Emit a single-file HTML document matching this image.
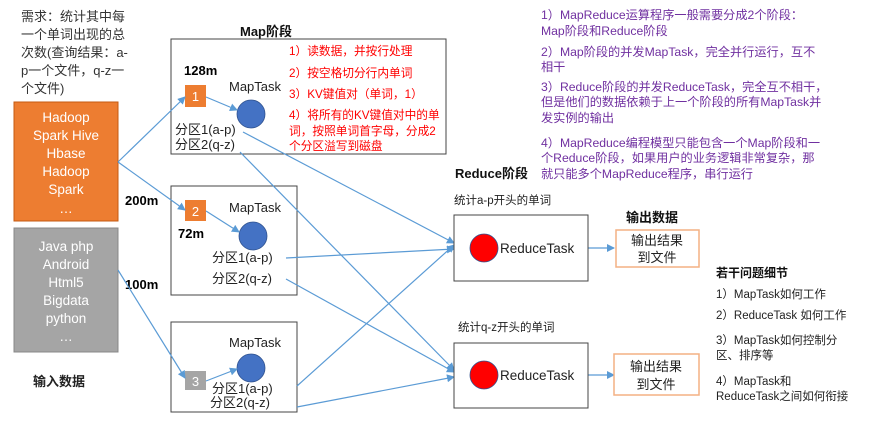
<!DOCTYPE html>
<html><head><meta charset="utf-8"><style>
body{margin:0;width:870px;height:419px;background:#fff;overflow:hidden;font-family:"Liberation Sans","Noto Sans CJK SC",sans-serif;}
svg text{font-family:"Liberation Sans","Noto Sans CJK SC",sans-serif;}
</style></head><body>
<svg width="870" height="419" viewBox="0 0 870 419" xmlns="http://www.w3.org/2000/svg">
<defs><marker id="a" markerWidth="8" markerHeight="8" refX="7" refY="4" orient="auto" markerUnits="userSpaceOnUse"><path d="M0,0 L8,4 L0,8 z" fill="#5b9bd5"/></marker></defs>
<g font-size="13" fill="#333">
<text x="21" y="21">需求：统计其中每</text>
<text x="21" y="39">一个单词出现的总</text>
<text x="21" y="57">次数(查询结果：a-</text>
<text x="21" y="75">p一个文件，q-z一</text>
<text x="21" y="93">个文件)</text>
</g>
<rect x="14" y="102" width="104" height="119" fill="#ed7d31" stroke="#c55a11"/>
<g font-size="13.5" fill="#fff" text-anchor="middle">
<text x="66" y="122">Hadoop</text><text x="66" y="140">Spark Hive</text><text x="66" y="158">Hbase</text><text x="66" y="176">Hadoop</text><text x="66" y="194">Spark</text><text x="66" y="213">…</text>
</g>
<rect x="14" y="228" width="104" height="124" fill="#a5a5a5" stroke="#888"/>
<g font-size="13.5" fill="#fff" text-anchor="middle">
<text x="66" y="251">Java php</text><text x="66" y="269">Android</text><text x="66" y="287">Html5</text><text x="66" y="305">Bigdata</text><text x="66" y="323">python</text><text x="66" y="341">…</text>
</g>
<text x="33" y="386" font-size="13" font-weight="bold" fill="#222">输入数据</text>
<text x="240" y="36" font-size="13" font-weight="bold" fill="#111">Map阶段</text>
<rect x="171" y="39" width="275" height="115" fill="#fff" stroke="#444"/>
<rect x="171" y="186" width="126" height="109" fill="#fff" stroke="#444"/>
<rect x="171" y="322" width="126" height="90" fill="#fff" stroke="#444"/>
<text x="184" y="75" font-size="13" font-weight="bold">128m</text>
<text x="125" y="205" font-size="13" font-weight="bold">200m</text>
<text x="178" y="238" font-size="13" font-weight="bold">72m</text>
<text x="125" y="289" font-size="13" font-weight="bold">100m</text>
<rect x="185" y="85" width="21" height="22" fill="#ed7d31"/><text x="195.5" y="101" font-size="13" fill="#fff" text-anchor="middle">1</text>
<rect x="185" y="200" width="21" height="21" fill="#ed7d31"/><text x="195.5" y="216" font-size="13" fill="#fff" text-anchor="middle">2</text>
<rect x="185" y="371" width="21" height="19" fill="#a5a5a5"/><text x="195.5" y="386" font-size="13" fill="#fff" text-anchor="middle">3</text>
<g font-size="13" fill="#222">
<text x="229" y="91">MapTask</text><text x="229" y="212">MapTask</text><text x="229" y="347">MapTask</text>
<text x="175" y="134">分区1(a-p)</text><text x="175" y="149">分区2(q-z)</text>
<text x="212" y="262">分区1(a-p)</text><text x="212" y="283">分区2(q-z)</text>
<text x="212" y="393">分区1(a-p)</text><text x="210" y="407">分区2(q-z)</text>
</g>
<g fill="#4472c4" stroke="#2f528f" stroke-width="0.8">
<circle cx="251" cy="114" r="14"/><circle cx="253" cy="236" r="14"/><circle cx="251" cy="368" r="14"/>
</g>
<g font-size="11.7" fill="#f00">
<text x="289" y="55">1）读数据，并按行处理</text>
<text x="289" y="77">2）按空格切分行内单词</text>
<text x="289" y="98">3）KV键值对（单词，1）</text>
<text x="289" y="119">4）将所有的KV键值对中的单</text>
<text x="289" y="135">词，按照单词首字母，分成2</text>
<text x="289" y="150">个分区溢写到磁盘</text>
</g>
<g stroke="#5b9bd5" stroke-width="1.2" fill="none" marker-end="url(#a)">
<line x1="118" y1="162" x2="185" y2="97"/>
<line x1="118" y1="162" x2="185" y2="210"/>
<line x1="118" y1="270" x2="185" y2="378"/>
<line x1="206" y1="97" x2="237" y2="110"/>
<line x1="206" y1="211" x2="239" y2="232"/>
<line x1="206" y1="381" x2="237" y2="369"/>
<line x1="243" y1="132" x2="454" y2="243"/>
<line x1="240" y1="152" x2="454" y2="370"/>
<line x1="286" y1="258" x2="454" y2="249"/>
<line x1="286" y1="279" x2="454" y2="372"/>
<line x1="297" y1="386" x2="454" y2="245"/>
<line x1="297" y1="407" x2="454" y2="377"/>
<line x1="588" y1="248" x2="614" y2="248"/>
<line x1="588" y1="375" x2="614" y2="375"/>
</g>
<text x="455" y="178" font-size="13" font-weight="bold" fill="#111">Reduce阶段</text>
<text x="454" y="204" font-size="11.5" fill="#222">统计a-p开头的单词</text>
<text x="458" y="331" font-size="11.5" fill="#222">统计q-z开头的单词</text>
<rect x="454" y="215" width="134" height="66" fill="#fff" stroke="#444"/>
<rect x="454" y="343" width="134" height="65" fill="#fff" stroke="#444"/>
<circle cx="484" cy="248" r="14" fill="#f00" stroke="#2f528f" stroke-width="0.8"/>
<circle cx="484" cy="375" r="14" fill="#f00" stroke="#2f528f" stroke-width="0.8"/>
<text x="500" y="253" font-size="13.5" fill="#222">ReduceTask</text>
<text x="500" y="380" font-size="13.5" fill="#222">ReduceTask</text>
<text x="626" y="222" font-size="13" font-weight="bold" fill="#111">输出数据</text>
<rect x="616" y="230" width="83" height="37" fill="#fff" stroke="#f4b183" stroke-width="1.5"/>
<rect x="614" y="354" width="85" height="41" fill="#fff" stroke="#f4b183" stroke-width="1.5"/>
<g font-size="13" fill="#222" text-anchor="middle">
<text x="657" y="245">输出结果</text><text x="657" y="262">到文件</text>
<text x="656" y="371">输出结果</text><text x="656" y="389">到文件</text>
</g>
<g font-size="12.2" fill="#7030a0">
<text x="541" y="19">1）MapReduce运算程序一般需要分成2个阶段：</text>
<text x="541" y="35">Map阶段和Reduce阶段</text>
<text x="541" y="56">2）Map阶段的并发MapTask，完全并行运行，互不</text>
<text x="541" y="71">相干</text>
<text x="541" y="91">3）Reduce阶段的并发ReduceTask，完全互不相干，</text>
<text x="541" y="106">但是他们的数据依赖于上一个阶段的所有MapTask并</text>
<text x="541" y="122">发实例的输出</text>
<text x="541" y="147">4）MapReduce编程模型只能包含一个Map阶段和一</text>
<text x="541" y="162">个Reduce阶段，如果用户的业务逻辑非常复杂，那</text>
<text x="541" y="178">就只能多个MapReduce程序，串行运行</text>
</g>
<text x="716" y="277" font-size="12" font-weight="bold" fill="#111">若干问题细节</text>
<g font-size="11.5" fill="#222">
<text x="716" y="298">1）MapTask如何工作</text>
<text x="716" y="319">2）ReduceTask 如何工作</text>
<text x="716" y="344">3）MapTask如何控制分</text>
<text x="716" y="359">区、排序等</text>
<text x="716" y="385">4）MapTask和</text>
<text x="716" y="400">ReduceTask之间如何衔接</text>
</g>
</svg>
</body></html>
